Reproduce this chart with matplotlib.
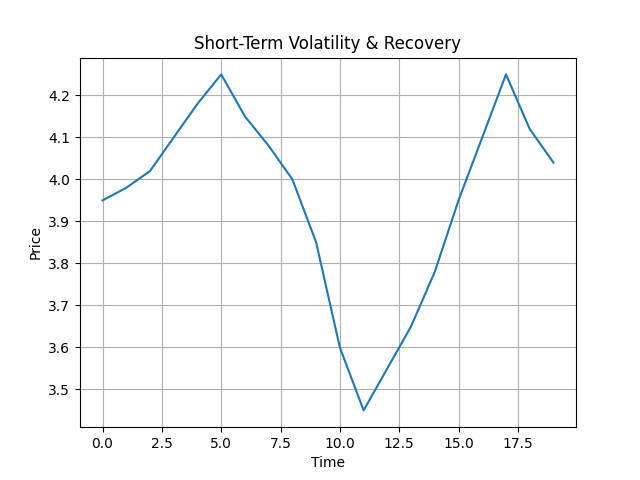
import matplotlib
matplotlib.use("Agg")
import matplotlib.pyplot as plt

time = list(range(20))
price = [3.95, 3.98, 4.02, 4.10, 4.18, 4.25, 4.15, 4.08, 4.00, 3.85,
         3.60, 3.45, 3.55, 3.65, 3.78, 3.95, 4.10, 4.25, 4.12, 4.04]

fig, ax = plt.subplots(figsize=(6.4, 4.8), dpi=100)
ax.plot(time, price)
ax.set_title("Short-Term Volatility & Recovery")
ax.set_xlabel("Time")
ax.set_ylabel("Price")
ax.grid(True)
fig.savefig("out.png")
